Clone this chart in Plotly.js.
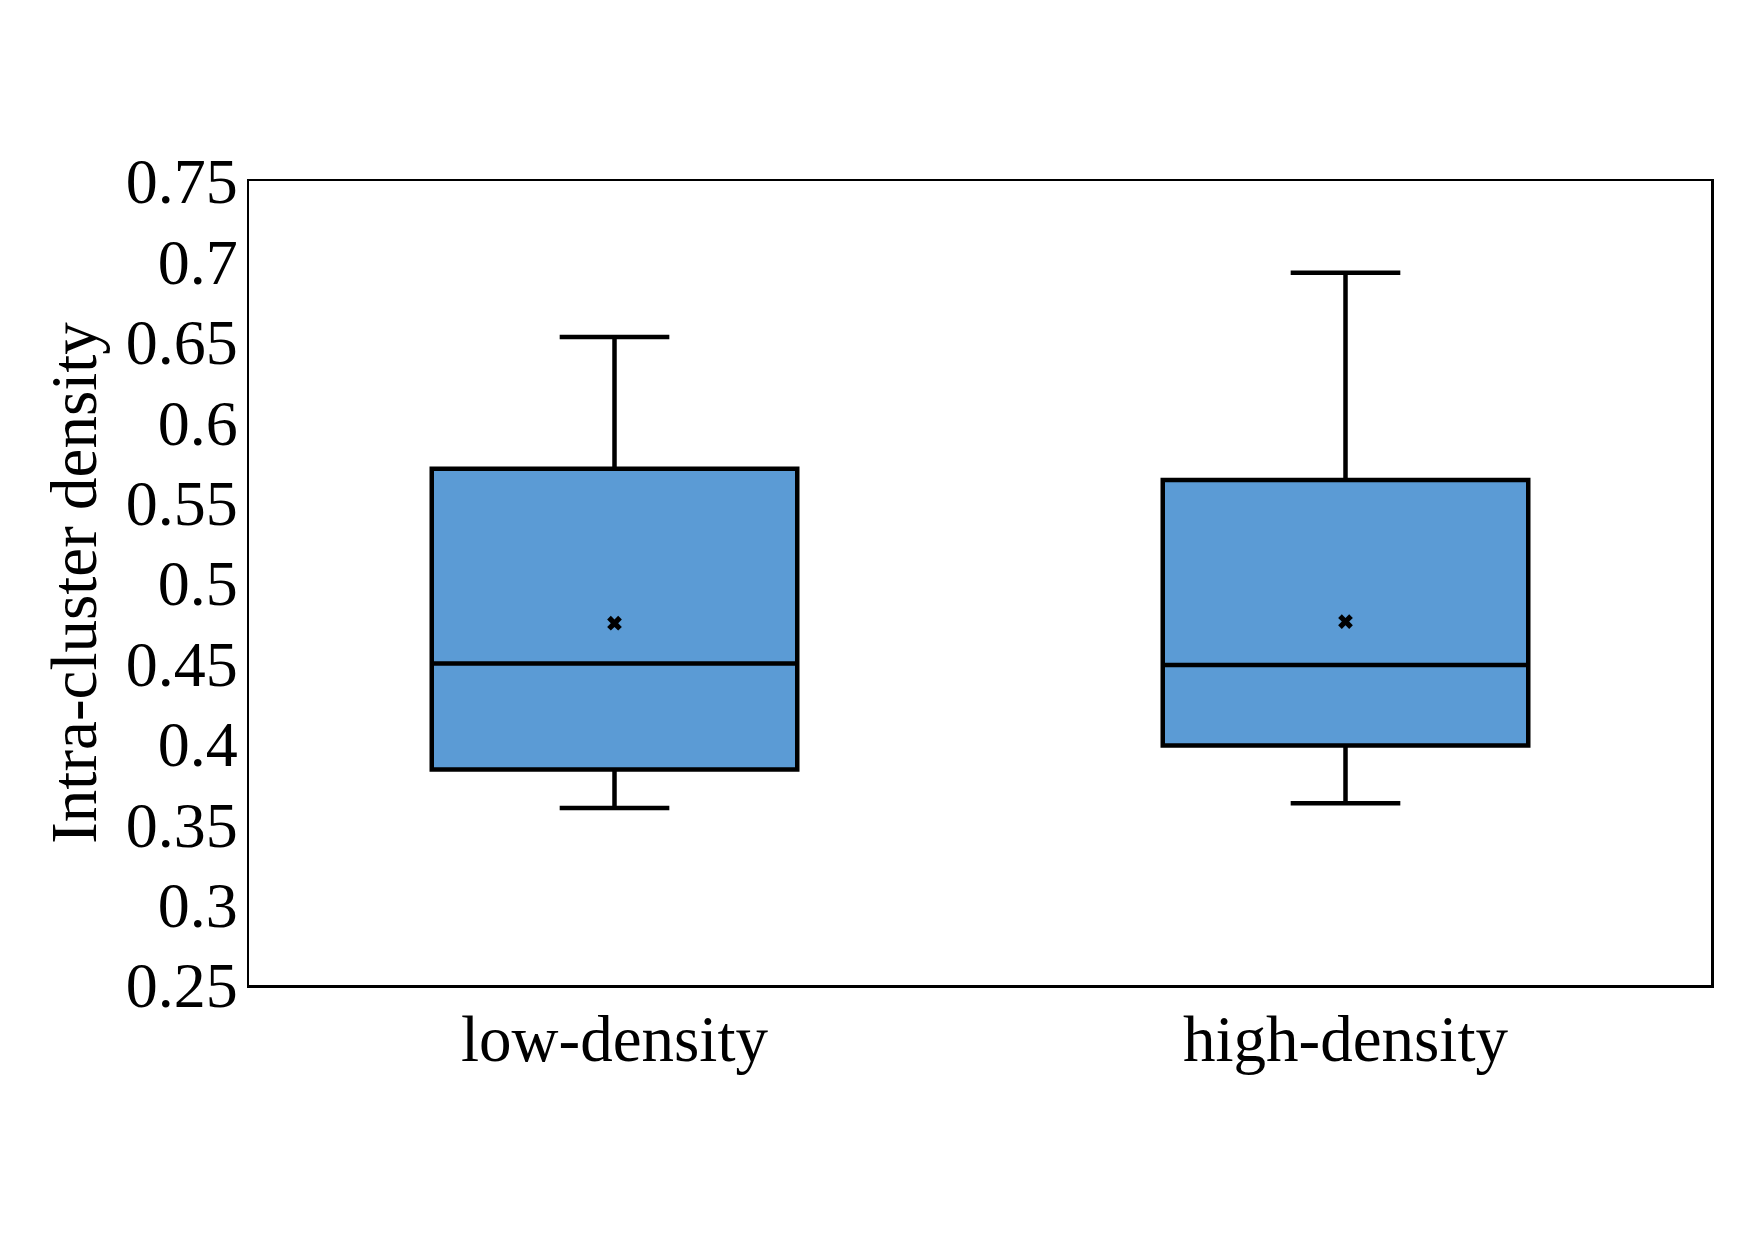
<!DOCTYPE html>
<html>
<head>
<meta charset="utf-8">
<script src="https://cdn.plot.ly/plotly-3.0.1.min.js"></script>
<style>html,body{margin:0;padding:0;background:#fff;}#chart{width:1754px;height:1241px;}</style>
</head>
<body>
<div id="chart"></div>
<script>
const categories = ['low-density', 'high-density'];
const lowerWhisker = [0.360, 0.363];
const q1Values = [0.384, 0.399];
const medianValues = [0.450, 0.449];
const q3Values = [0.571, 0.564];
const upperWhisker = [0.653, 0.693];
const meanValues = [0.475, 0.476];
const yTickVals = [0.25, 0.3, 0.35, 0.4, 0.45, 0.5, 0.55, 0.6, 0.65, 0.7, 0.75];
const yTickText = ['0.25', '0.3', '0.35', '0.4', '0.45', '0.5', '0.55', '0.6', '0.65', '0.7', '0.75'];

const FONT = 'Liberation Serif, Times New Roman, serif';

const boxTrace = {
  type: 'box',
  x: categories,
  q1: q1Values,
  median: medianValues,
  q3: q3Values,
  lowerfence: lowerWhisker,
  upperfence: upperWhisker,
  fillcolor: '#5B9BD5',
  line: {color: '#000000', width: 4.5},
  whiskerwidth: 0.3,
  boxpoints: false,
  showlegend: false,
  hoverinfo: 'skip'
};

const meanTrace = {
  type: 'scatter',
  mode: 'markers',
  x: categories,
  y: meanValues,
  marker: {symbol: 'x', size: 13, color: '#000000', line: {width: 0}},
  showlegend: false,
  hoverinfo: 'skip'
};

const layout = {
  width: 1754,
  height: 1241,
  paper_bgcolor: '#ffffff',
  plot_bgcolor: '#ffffff',
  margin: {l: 249, r: 43, t: 181, b: 256},
  boxgap: 0.5,
  boxgroupgap: 0,
  showlegend: false,
  font: {family: FONT, color: '#000000', size: 64},
  xaxis: {
    type: 'category',
    range: [-0.5, 1.5],
    showgrid: false,
    zeroline: false,
    showline: true,
    mirror: true,
    linecolor: '#000000',
    linewidth: 2.5,
    ticks: '',
    tickfont: {family: FONT, size: 65, color: '#000000'},
    ticklabelstandoff: -5
  },
  yaxis: {
    range: [0.25, 0.75],
    tickvals: yTickVals,
    ticktext: yTickText,
    showgrid: false,
    zeroline: false,
    showline: true,
    mirror: true,
    linecolor: '#000000',
    linewidth: 2.5,
    ticks: '',
    tickfont: {family: FONT, size: 64, color: '#000000'},
    ticklabelstandoff: -4,
    title: {text: 'Intra-cluster density', font: {family: FONT, size: 65, color: '#000000'}, standoff: 8}
  }
};

Plotly.newPlot('chart', [boxTrace, meanTrace], layout, {displayModeBar: false, staticPlot: true});
</script>
</body>
</html>
